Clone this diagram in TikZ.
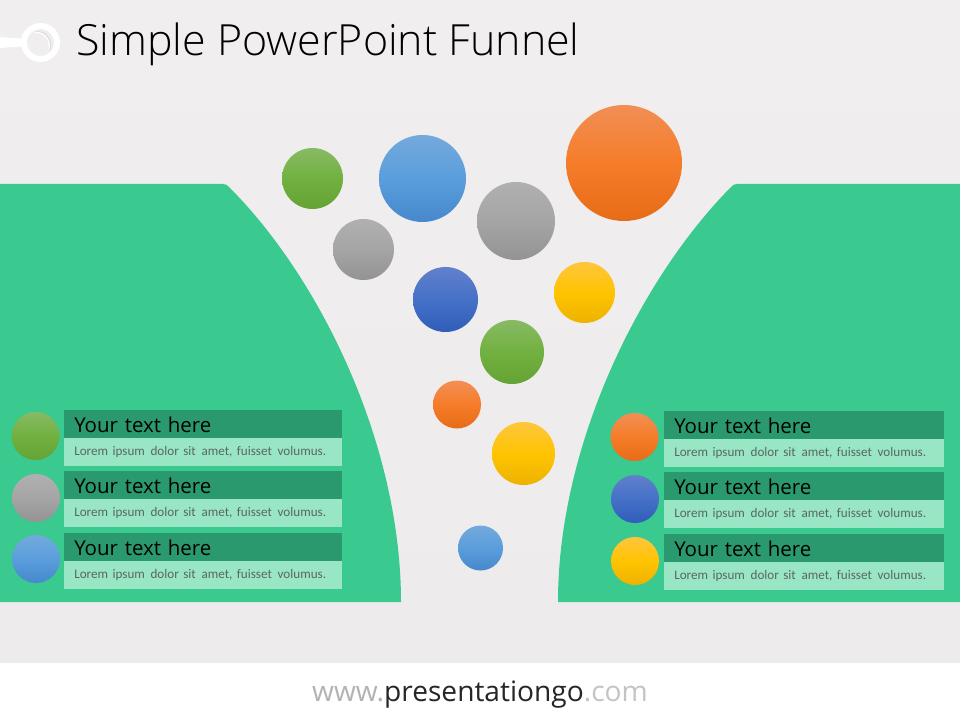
\documentclass[tikz,border=0pt]{standalone}
\usepackage{fontspec}
\setmainfont{Open Sans}
\newfontfamily\bodyfont{Carlito}
\newfontfamily\titlefont{Open Sans Light}
\definecolor{bgc}{HTML}{F0EEEF}
\definecolor{bgd}{HTML}{EDEBEC}
\definecolor{funnelc}{HTML}{3AC98F}
\definecolor{headc}{HTML}{2A9A6E}
\definecolor{bodyc}{HTML}{99E6C5}
\definecolor{lorc}{HTML}{5A6662}
\definecolor{grnA}{HTML}{88BA64}\definecolor{grnB}{HTML}{71B140}\definecolor{grnC}{HTML}{64A334}
\definecolor{bluA}{HTML}{74A9DC}\definecolor{bluB}{HTML}{5A9EDC}\definecolor{bluC}{HTML}{4688CC}
\definecolor{oraA}{HTML}{F28F55}\definecolor{oraB}{HTML}{F57C29}\definecolor{oraC}{HTML}{E76C17}
\definecolor{gryA}{HTML}{B0B0B0}\definecolor{gryB}{HTML}{A5A5A5}\definecolor{gryC}{HTML}{939393}
\definecolor{dblA}{HTML}{6280CB}\definecolor{dblB}{HTML}{4571C8}\definecolor{dblC}{HTML}{2F5DB8}
\definecolor{yelA}{HTML}{FFC53D}\definecolor{yelB}{HTML}{FFC400}\definecolor{yelC}{HTML}{EDB200}
\tikzset{
  x=0.75pt,y=-0.75pt,
  ball/.style args={#1/#2}{circle,inner sep=0pt,minimum size=#1*0.75pt,top color=#2A,bottom color=#2C,middle color=#2B,draw=none},
  headbar/.style={anchor=north west,inner sep=0pt,minimum width=210pt,minimum height=21pt,fill=headc,text width=195pt,align=left,font=\fontsize{15.35}{15.35}\selectfont,text=black},
  bodybar/.style={anchor=north west,inner sep=0pt,minimum width=210pt,minimum height=20.5pt,fill=bodyc,text width=195pt,align=left,font=\bodyfont\fontsize{9.85}{10}\selectfont,text=lorc},
}
\newcommand{\lorem}{Lorem ipsum\hspace{1pt} dolor sit\hspace{1pt} amet, fuisset\hspace{1pt} volumus.}
\newcommand{\yourtext}{\raisebox{0pt}[13pt][0pt]{Your text here}}
\begin{document}
\begin{tikzpicture}
\useasboundingbox (0,0) rectangle (960,720);
\fill[white] (0,0) rectangle (960,720);
\fill[top color=bgc,bottom color=bgd] (0,0) rectangle (960,662);
% funnel
\fill[funnelc] (0,184) -- (223,184) .. controls (226,184) and (227,185) .. (229,187) .. controls (321,279) and (401,445) .. (401,602) -- (0,602) -- cycle;
\fill[funnelc] (960,184) -- (737,184) .. controls (734,184) and (733,185) .. (731,187) .. controls (640,279) and (558,445) .. (558,602) -- (960,602) -- cycle;
% logo
\fill[white] (0,37) -- (22,38.5) -- (22,46.5) -- (0,48) -- cycle;
\node[circle,draw=white,line width=4.5pt,minimum size=24.75pt,inner sep=0pt] (logo) at (40.5,42.5) {};
\draw[black!14,line width=0.8pt] (36,31.5) .. controls (46,31) and (53,40) .. (50,50);
\draw[white,line width=0.9pt] (35,32.5) .. controls (44,31.5) and (51,40) .. (49,49);
% title
\node[anchor=west,inner sep=0pt,font=\titlefont\fontsize{32.2}{32.2}\selectfont,text=black] (title) at (76,44.5) {Simple PowerPoint Funnel};
% balls
\node[ball=61/grn] (b1) at (312.5,178.5) {};
\node[ball=87/blu] (b2) at (422.5,178.5) {};
\node[ball=116/ora] (b3) at (624,163) {};
\node[ball=78/gry] (b4) at (516,221) {};
\node[ball=61/gry] (b5) at (363.5,249.5) {};
\node[ball=65/dbl] (b6) at (445.5,299.5) {};
\node[ball=61/yel] (b7) at (584.5,292.5) {};
\node[ball=64/grn] (b8) at (512,352) {};
\node[ball=48/ora] (b9) at (457,404.5) {};
\node[ball=63/yel] (b10) at (523.5,453.5) {};
\node[ball=45/blu] (b11) at (480.5,548) {};
% left legend
\node[ball=48/grn] (l1) at (35.5,436) {};
\node[ball=48/gry] (l2) at (36,498) {};
\node[ball=48/blu] (l3) at (36,559) {};
\node[headbar,minimum width=208.5pt,text width=193.5pt] (lh1) at (64,410) {\yourtext};
\node[bodybar,minimum width=208.5pt,text width=193.5pt] (lb1) at (64,438) {\lorem};
\node[headbar,minimum width=208.5pt,text width=193.5pt] (lh2) at (64,471) {\yourtext};
\node[bodybar,minimum width=208.5pt,text width=193.5pt] (lb2) at (64,499) {\lorem};
\node[headbar,minimum width=208.5pt,text width=193.5pt] (lh3) at (64,533) {\yourtext};
\node[bodybar,minimum width=208.5pt,text width=193.5pt] (lb3) at (64,561) {\lorem};
% right legend
\node[ball=48/ora] (r1) at (634.5,437) {};
\node[ball=48/dbl] (r2) at (635,499) {};
\node[ball=48/yel] (r3) at (635,561) {};
\node[headbar] (rh1) at (664,411) {\yourtext};
\node[bodybar] (rb1) at (664,439) {\lorem};
\node[headbar] (rh2) at (664,472) {\yourtext};
\node[bodybar] (rb2) at (664,500) {\lorem};
\node[headbar] (rh3) at (664,534) {\yourtext};
\node[bodybar] (rb3) at (664,562) {\lorem};
% footer
\node[inner sep=0pt,font=\fontsize{21.1}{21.1}\selectfont] (foot) at (480,695) {\textcolor[HTML]{B3B3B3}{www.}\textcolor[HTML]{262626}{presentationgo}\textcolor[HTML]{C4C4C4}{.com}};
\end{tikzpicture}
\end{document}
